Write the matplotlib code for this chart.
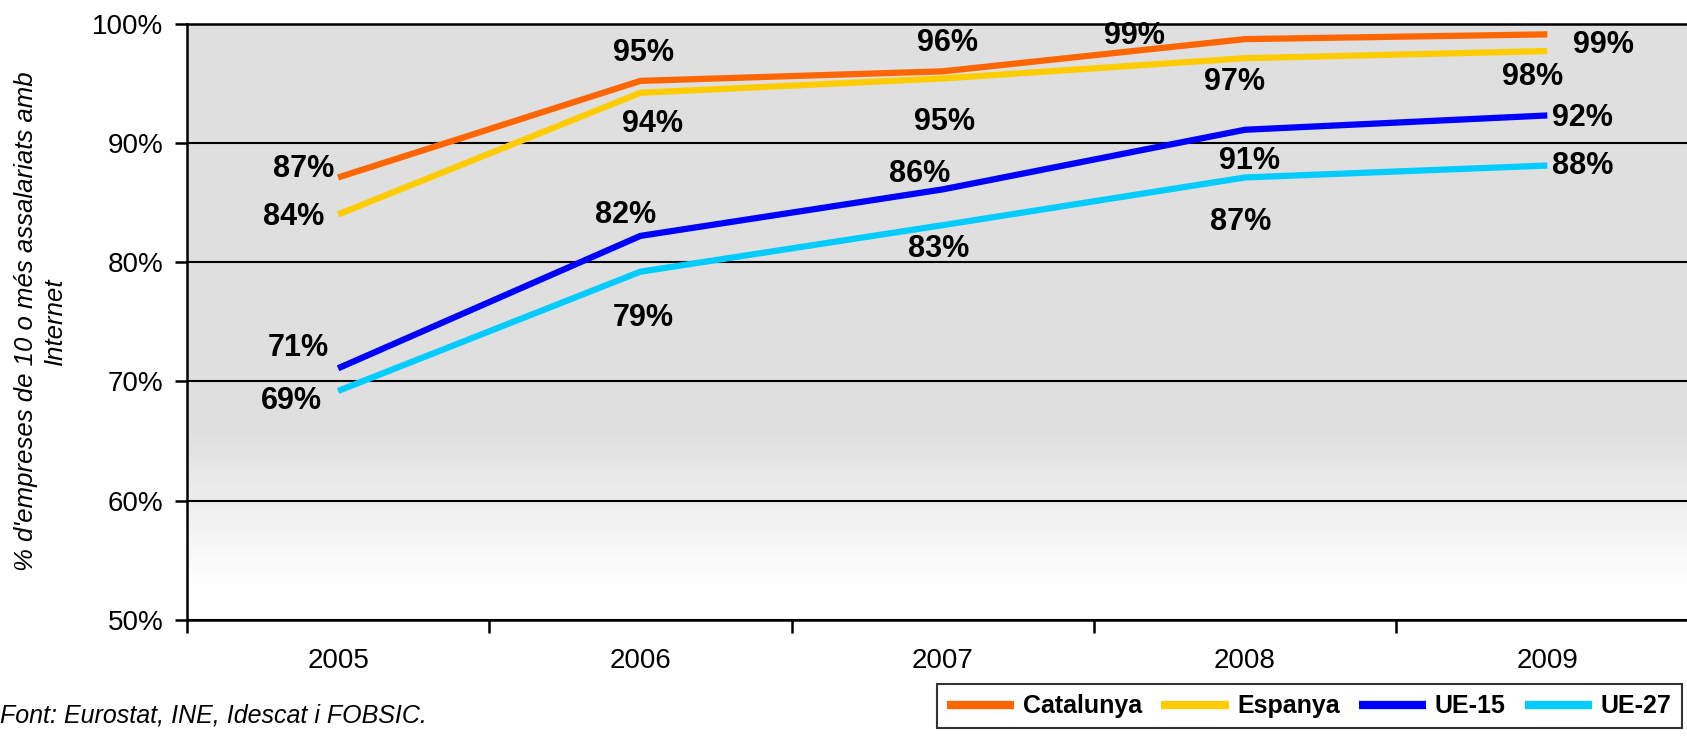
import numpy as np
import matplotlib.pyplot as plt

plt.rcParams['font.family'] = ['Liberation Sans', 'DejaVu Sans']

years = [2005, 2006, 2007, 2008, 2009]
series_names = ['Catalunya', 'Espanya', 'UE-15', 'UE-27']
catalunya = [87.1, 95.2, 96.0, 98.7, 99.1]
espanya = [84.0, 94.2, 95.4, 97.1, 97.7]
ue15 = [71.1, 82.2, 86.1, 91.1, 92.3]
ue27 = [69.2, 79.2, 83.1, 87.1, 88.1]
labels = [
    ['87%', '95%', '96%', '99%', '99%'],
    ['84%', '94%', '95%', '97%', '98%'],
    ['71%', '82%', '86%', '91%', '92%'],
    ['69%', '79%', '83%', '87%', '88%'],
]
colors = ['#FF6600', '#FFCC00', '#0000FF', '#00CCFF']

# label offsets from each point (pixels in reference, y down)
offsets = [
    [(-32, -8), (3, -26), (4, -26), (-103, -3), (52, 10)],
    [(-41, 2), (11, 29), (2, 40), (-10, 22), (-14, 24)],
    [(-37, -19), (-14, -19), (-21, -14), (4, 29), (33, 2)],
    [(-43, 9), (3, 43), (-4, 22), (-4, 41), (33, 0)],
]

fig = plt.figure(figsize=(16.87, 7.38), dpi=100)
ax = fig.add_axes([0.1108, 0.160, 0.896, 0.808])

# background gradient: grey on top fading to white at bottom
grad = np.linspace(0, 1, 256).reshape(-1, 1)
ys = 50 + 50 * grad
shade = np.clip((ys - 53) / (66 - 53), 0, 1)
val = 1.0 - shade * (1.0 - 0.875)
img = np.dstack([val, val, val])
ax.imshow(img, extent=[2004.5, 2009.5, 50, 100], origin='lower',
          aspect='auto', zorder=0)

data = [catalunya, espanya, ue15, ue27]
for vals, name, col, labs, offs in zip(data, series_names, colors, labels, offsets):
    ax.plot(years, vals, color=col, lw=4.5, label=name, zorder=3,
            solid_capstyle='butt')
    for x, y, lab, (dx, dy) in zip(years, vals, labs, offs):
        ax.annotate(lab, (x, y), xytext=(dx * 0.775, -dy * 0.775),
                    textcoords='offset points', ha='center', va='center',
                    fontsize=22, fontweight='bold', zorder=4)

ax.set_xlim(2004.5, 2009.5)
ax.set_ylim(50, 100)
ax.set_yticks([50, 60, 70, 80, 90, 100])
ax.set_yticklabels(['50%', '60%', '70%', '80%', '90%', '100%'], fontsize=20)
ax.grid(axis='y', color='black', lw=1.5, zorder=1)
ax.set_axisbelow(False)

ax.set_xticks([2004.5, 2005.5, 2006.5, 2007.5, 2008.5, 2009.5])
ax.set_xticklabels([])
ax.set_xticks(years, minor=True)
ax.set_xticklabels([str(y) for y in years], minor=True, fontsize=20)
ax.tick_params(axis='x', which='minor', length=0, pad=20)
ax.tick_params(axis='x', which='major', length=9, width=1.8, direction='out')
ax.tick_params(axis='y', length=9, width=1.8, direction='out', pad=8)

for s in ax.spines.values():
    s.set_linewidth(1.8)
    s.set_zorder(5)

fig.text(0.024, 0.565, "% d'empreses de 10 o més assalariats amb\nInternet",
         rotation=90, ha='center', va='center', fontsize=18.5, style='italic',
         linespacing=1.3)

fig.text(0.0, 0.031, 'Font: Eurostat, INE, Idescat i FOBSIC.',
         fontsize=18, style='italic', ha='left', va='center')

leg = fig.legend(loc='lower left', bbox_to_anchor=(0.548, -0.004), ncol=4,
                 frameon=True, fancybox=False, edgecolor='black',
                 handlelength=2.7, handletextpad=0.35, columnspacing=0.75,
                 borderpad=0.4,
                 prop={'family': ['Liberation Sans Narrow', 'Liberation Sans'],
                       'weight': 'bold', 'size': 18})
leg.get_frame().set_linewidth(1.5)
for h in leg.get_lines():
    h.set_linewidth(6)

fig.savefig('out.png', dpi=100)
